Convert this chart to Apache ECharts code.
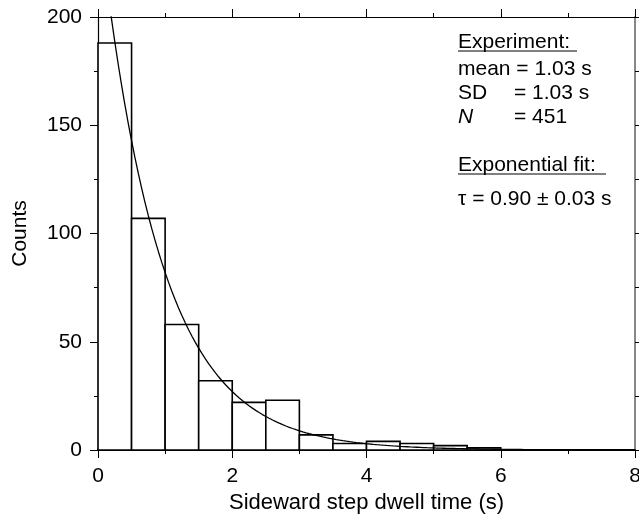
<!DOCTYPE html>
<html>
<head>
<meta charset="utf-8">
<script src="https://cdn.jsdelivr.net/npm/echarts@6/dist/echarts.min.js"></script>
<style>html,body{margin:0;padding:0;background:#fff}#c{width:639px;height:516px}</style>
</head>
<body>
<div id="c"></div>
<script>
// Histogram bins (left edges, s) and counts
var binStarts = [0, 0.5, 1.0, 1.5, 2.0, 2.5, 3.0, 3.5, 4.0, 4.5, 5.0, 5.5];
var binWidth = 0.5;
var counts = [188, 107, 58, 32, 22, 23, 7, 3, 4, 3, 2, 1];
// Exponential fit parameters
var fitAmplitude = 249;
var fitTau = 0.90;
var fitTimes = [];
for (var i = 0; i <= 160; i++) fitTimes.push(i * 0.05);
// Tick labels / axis ranges
var xTicks = [0, 2, 4, 6, 8];
var yTicks = [0, 50, 100, 150, 200];
// Annotation text
var experimentTitle = 'Experiment:';
var meanText = 'mean = 1.03 s';
var statLabels = ['SD', 'N'];
var statValues = ['= 1.03 s', '= 451'];
var fitTitle = 'Exponential fit:';
var fitText = '\u03C4 = 0.90 \u00B1 0.03 s';

var FONT = '"Liberation Sans", Arial, Helvetica, sans-serif';
var FS = 21;

var histData = binStarts.map(function (s, i) { return [s, s + binWidth, counts[i]]; });
var fitData = fitTimes.map(function (t) { return [t, fitAmplitude * Math.exp(-t / fitTau)]; });

var chart = echarts.init(document.getElementById('c'), null, {renderer: 'canvas'});

function axisCommon(extra) {
  var base = {
    type: 'value',
    splitLine: {show: false},
    axisLine: {show: true, onZero: false, lineStyle: {color: '#000', width: 1.2}},
    axisTick: {show: true, inside: false, length: 8, lineStyle: {color: '#000', width: 1}},
    minorTick: {show: true, splitNumber: 2, length: 4, lineStyle: {color: '#000', width: 1}},
    axisLabel: {show: false}
  };
  for (var k in extra) base[k] = extra[k];
  return base;
}

var option = {
  animation: false,
  backgroundColor: '#fff',
  grid: {left: 98, right: 4, top: 17, bottom: 66, containLabel: false, outerBoundsMode: 'none'},
  xAxis: [
    axisCommon({
      position: 'bottom', min: xTicks[0], max: xTicks[xTicks.length - 1], interval: 2,
      axisLine: {show: true, onZero: false, lineStyle: {color: '#000', width: 2}},
      axisLabel: {show: true, color: '#000', fontFamily: FONT, fontSize: FS, margin: 16},
      name: 'Sideward step dwell time (s)', nameLocation: 'middle', nameGap: 36,
      nameTextStyle: {color: '#000', fontFamily: FONT, fontSize: 22}
    }),
    axisCommon({position: 'top', min: xTicks[0], max: xTicks[xTicks.length - 1], interval: 2})
  ],
  yAxis: [
    axisCommon({
      position: 'left', min: yTicks[0], max: yTicks[yTicks.length - 1], interval: 50,
      axisLabel: {show: true, color: '#000', fontFamily: FONT, fontSize: FS, margin: 16},
      name: 'Counts', nameLocation: 'middle', nameGap: 67, nameRotate: 90,
      nameTextStyle: {color: '#000', fontFamily: FONT, fontSize: FS}
    }),
    axisCommon({
      position: 'right', min: yTicks[0], max: yTicks[yTicks.length - 1], interval: 50,
      axisLine: {show: true, onZero: false, lineStyle: {color: '#888', width: 2}}
    })
  ],
  series: [
    {
      type: 'custom',
      xAxisIndex: 0, yAxisIndex: 0,
      data: histData,
      renderItem: function (params, api) {
        var p0 = api.coord([api.value(0), 0]);
        var p1 = api.coord([api.value(1), api.value(2)]);
        return {
          type: 'rect',
          shape: {x: p0[0], y: p1[1], width: p1[0] - p0[0], height: p0[1] - p1[1]},
          style: {fill: '#fff', stroke: '#000', lineWidth: 1.6}
        };
      },
      z: 2
    },
    {
      type: 'line',
      xAxisIndex: 0, yAxisIndex: 0,
      data: fitData,
      showSymbol: false,
      smooth: false,
      clip: true,
      lineStyle: {color: '#000', width: 1.3},
      z: 3
    }
  ],
  graphic: [
    {type: 'text', left: 458, top: 32, style: {text: experimentTitle, font: FS + 'px ' + FONT, fill: '#000'}},
    {type: 'line', shape: {x1: 458, y1: 51, x2: 577, y2: 51}, style: {stroke: '#000', lineWidth: 1}},
    {type: 'text', left: 458, top: 59, style: {text: meanText, font: FS + 'px ' + FONT, fill: '#000'}},
    {type: 'text', left: 458, top: 83, style: {text: statLabels[0], font: FS + 'px ' + FONT, fill: '#000'}},
    {type: 'text', left: 514, top: 83, style: {text: statValues[0], font: FS + 'px ' + FONT, fill: '#000'}},
    {type: 'text', left: 458, top: 107, style: {text: statLabels[1], font: 'italic ' + FS + 'px ' + FONT, fill: '#000'}},
    {type: 'text', left: 514, top: 107, style: {text: statValues[1], font: FS + 'px ' + FONT, fill: '#000'}},
    {type: 'text', left: 458, top: 155, style: {text: fitTitle, font: FS + 'px ' + FONT, fill: '#000'}},
    {type: 'line', shape: {x1: 458, y1: 174, x2: 606, y2: 174}, style: {stroke: '#000', lineWidth: 1}},
    {type: 'text', left: 458, top: 189, style: {text: fitText, font: FS + 'px ' + FONT, fill: '#000'}}
  ]
};
chart.setOption(option);
</script>
</body>
</html>
